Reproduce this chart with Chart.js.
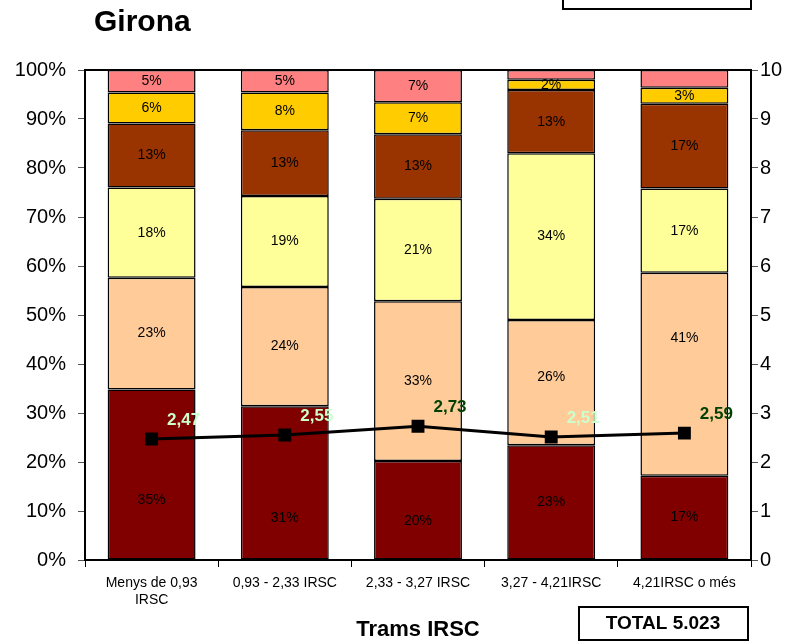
<!DOCTYPE html>
<html>
<head>
<meta charset="utf-8">
<script src="https://cdn.jsdelivr.net/npm/chart.js@4"></script>
<style>
  html, body { margin: 0; padding: 0; background: #fff; }
  #wrap { width: 793px; height: 643px; position: relative; }
</style>
</head>
<body>
<div id="wrap"><canvas id="myChart" width="793" height="643"></canvas></div>
<script>
// trams IRSC, Girona
const categories = [["Menys de 0,93", "IRSC"], "0,93 - 2,33 IRSC", "2,33 - 3,27 IRSC", "3,27 - 4,21IRSC", "4,21IRSC o més"];

// percentatges per tram, de baix a dalt
const serie1 = [34.8, 31.4, 20.2, 23.4, 17.2];
const serie2 = [22.8, 24.3, 32.6, 25.6, 41.4];
const serie3 = [18.4, 18.6, 20.9, 34.0, 17.2];
const serie4 = [13.1, 13.4, 13.2, 12.9, 17.3];
const serie5 = [6.3, 7.7, 6.5, 2.1, 3.3];
const serie6 = [4.6, 4.6, 6.6, 2.0, 3.6];

// mitjana (eix dret)
const mitjana = [2.47, 2.55, 2.73, 2.51, 2.59];

const leftTicks = [0, 10, 20, 30, 40, 50, 60, 70, 80, 90, 100];
const rightTicks = [0, 1, 2, 3, 4, 5, 6, 7, 8, 9, 10];
const total = "TOTAL 5.023";

const FONT = "'Liberation Sans', Arial, sans-serif";
const colors = ["#800000", "#FFCC99", "#FFFF99", "#993300", "#FFCC00", "#FF8080"];
const series = [serie1, serie2, serie3, serie4, serie5, serie6];
const mitjanaColors = ["#CCFFCC", "#CCFFCC", "#004000", "#CCFFCC", "#004000"];
// etiquetes amagades i desplaçades (sèrie-tram)
const hidden = ["5-3", "5-4"];
const nudge = { "0-0": 26, "0-1": 35, "0-2": 11, "1-4": -36, "1-3": -5 };

const barSets = series.map((s, i) => ({
    type: "bar",
    label: "s" + (i + 1),
    data: s,
    backgroundColor: colors[i],
    borderColor: "#000",
    borderWidth: 1.5,
    borderSkipped: false,
    barPercentage: 0.66,
    categoryPercentage: 1,
    yAxisID: "y",
    order: 1,
}));

const labelsPlugin = {
    id: "labels",
    afterDatasetsDraw(chart) {
        const ctx = chart.ctx;
        ctx.save();
        ctx.textAlign = "center";
        ctx.textBaseline = "middle";
        ctx.font = "14px " + FONT;
        ctx.fillStyle = "#000";
        series.forEach((s, i) => {
            chart.getDatasetMeta(i).data.forEach((el, j) => {
                const key = i + "-" + j;
                if (hidden.includes(key)) return;
                const dy = nudge[key] || 0;
                ctx.fillText(Math.round(s[j]) + "%", el.x, (el.y + el.base) / 2 + dy);
            });
        });
        ctx.font = "bold 17px " + FONT;
        chart.getDatasetMeta(series.length).data.forEach((el, j) => {
            ctx.fillStyle = mitjanaColors[j];
            ctx.fillText(mitjana[j].toFixed(2).replace(".", ","), el.x + 32, el.y - 19);
        });
        ctx.restore();
    },
    afterDraw(chart) {
        const ctx = chart.ctx;
        const a = chart.chartArea;
        ctx.save();
        // vora superior
        ctx.strokeStyle = "#000";
        ctx.lineWidth = 2;
        ctx.beginPath();
        ctx.moveTo(a.left, a.top);
        ctx.lineTo(a.right, a.top);
        ctx.stroke();
        // títol
        ctx.fillStyle = "#000";
        ctx.textBaseline = "middle";
        ctx.textAlign = "left";
        ctx.font = "bold 30px " + FONT;
        ctx.fillText("Girona", 94, 23);
        // caixa superior
        ctx.strokeRect(563, -2, 188, 11);
        // total
        ctx.strokeRect(579, 607, 169, 33);
        ctx.textAlign = "center";
        ctx.font = "bold 19px " + FONT;
        ctx.fillText(total, 663, 624);
        ctx.restore();
    },
};

new Chart(document.getElementById("myChart"), {
    data: {
        labels: categories,
        datasets: [
            ...barSets,
            {
                type: "line",
                label: "mitjana",
                data: mitjana,
                borderColor: "#000",
                borderWidth: 3,
                pointStyle: "rect",
                pointRadius: 7,
                pointBackgroundColor: "#000",
                pointBorderColor: "#000",
                tension: 0,
                yAxisID: "y2",
                order: 0,
            },
        ],
    },
    options: {
        responsive: false,
        animation: false,
        layout: { padding: { top: 70, left: 0, right: 0, bottom: 0 } },
        plugins: {
            legend: { display: false },
            tooltip: { enabled: false },
        },
        scales: {
            x: {
                stacked: true,
                offset: true,
                grid: {
                    offset: true,
                    drawOnChartArea: false,
                    tickLength: 7,
                    color: "#000",
                },
                border: { color: "#000", width: 2 },
                ticks: {
                    color: "#000",
                    font: { family: FONT, size: 14 },
                    padding: 8,
                    maxRotation: 0,
                    autoSkip: false,
                },
                title: {
                    display: true,
                    text: "Trams IRSC",
                    color: "#000",
                    font: { family: FONT, size: 22, weight: "bold" },
                    padding: { top: 6, bottom: 0 },
                },
                afterFit(scale) { scale.height = 83; },
            },
            y: {
                stacked: true,
                position: "left",
                min: 0,
                max: 100,
                afterBuildTicks(scale) { scale.ticks = leftTicks.map(v => ({ value: v })); },
                grid: { drawOnChartArea: false, tickLength: 7, color: "#555" },
                border: { color: "#000", width: 2 },
                ticks: {
                    color: "#000",
                    font: { family: FONT, size: 20 },
                    padding: 12,
                    callback: v => v + "%",
                },
                afterFit(scale) { scale.width = 85; },
            },
            y2: {
                position: "right",
                min: 0,
                max: 10,
                afterBuildTicks(scale) { scale.ticks = rightTicks.map(v => ({ value: v })); },
                grid: { drawOnChartArea: false, tickLength: 7, color: "#555" },
                border: { color: "#000", width: 2 },
                ticks: {
                    color: "#000",
                    font: { family: FONT, size: 20 },
                    padding: 2,
                },
                afterFit(scale) { scale.width = 42; },
            },
        },
    },
    plugins: [labelsPlugin],
});
</script>
</body>
</html>
